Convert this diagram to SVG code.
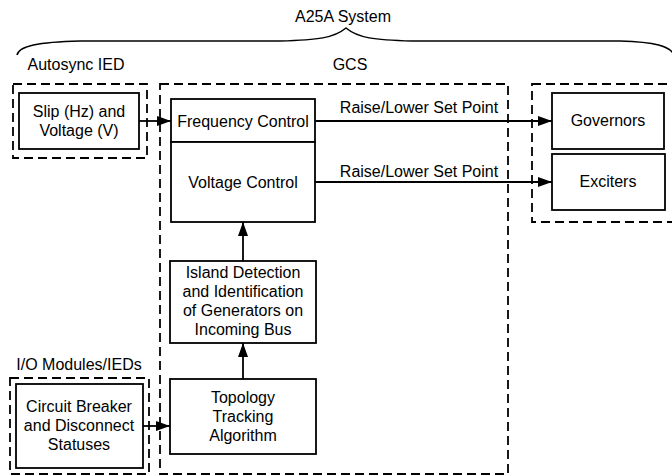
<svg xmlns="http://www.w3.org/2000/svg" width="672" height="476" viewBox="0 0 672 476">
<defs>
<style>
text{font-family:"Liberation Sans",Arial,sans-serif;font-size:16px;fill:#000;text-anchor:middle}
.box{fill:#fff;stroke:#000;stroke-width:1.8}
.dash{fill:none;stroke:#000;stroke-width:1.8;stroke-dasharray:9,5}
.conn{fill:none;stroke:#000;stroke-width:1.8}
.brace{fill:none;stroke:#000;stroke-width:1.5}
</style>
<marker id="ah" viewBox="0 0 14 10" refX="14" refY="5" markerWidth="14" markerHeight="10" markerUnits="userSpaceOnUse" orient="auto">
<path d="M0,0 L14,5 L0,10 z" fill="#000"/>
</marker>
</defs>
<rect width="672" height="476" fill="#fff"/>
<g id="system">
<path class="brace" d="M17,55 C19,46 38,42 80,41 L280,41 C318,40 334,38 346,28 C358,38 374,40 412,41 L620,41 C655,42 670,46 674,55"/>
<text x="343" y="22">A25A System</text>
</g>
<g id="autosync-ied">
<text x="76" y="70">Autosync IED</text>
<rect class="dash" x="13" y="84" width="134" height="74"/>
</g>
<g id="gcs">
<text x="350" y="70">GCS</text>
<rect class="dash" x="160" y="84" width="348" height="390"/>
</g>
<g id="gen-group">
<rect class="dash" x="532" y="84" width="150" height="138"/>
</g>
<g id="io-modules">
<text x="79" y="370">I/O Modules/IEDs</text>
<rect class="dash" x="10" y="378" width="139" height="96"/>
</g>
<g id="slip">
<rect class="box" x="19" y="93" width="120" height="56"/>
<text x="79" y="117">Slip (Hz) and</text>
<text x="79" y="136">Voltage (V)</text>
</g>
<g id="freq">
<rect class="box" x="171" y="99" width="144" height="43"/>
<text x="243" y="127">Frequency Control</text>
</g>
<g id="volt">
<rect class="box" x="171" y="142" width="144" height="80"/>
<text x="243" y="188">Voltage Control</text>
</g>
<g id="island">
<rect class="box" x="170" y="261" width="146" height="82"/>
<text x="243" y="278">Island Detection</text>
<text x="243" y="297">and Identification</text>
<text x="243" y="316">of Generators on</text>
<text x="243" y="335">Incoming Bus</text>
</g>
<g id="topology">
<rect class="box" x="170" y="379" width="146" height="75"/>
<text x="243" y="403">Topology</text>
<text x="243" y="422">Tracking</text>
<text x="243" y="441">Algorithm</text>
</g>
<g id="breaker">
<rect class="box" x="16" y="384" width="127" height="84"/>
<text x="79" y="412">Circuit Breaker</text>
<text x="79" y="431">and Disconnect</text>
<text x="79" y="450">Statuses</text>
</g>
<g id="governors">
<rect class="box" x="552" y="93" width="112" height="56"/>
<text x="608" y="126">Governors</text>
</g>
<g id="exciters">
<rect class="box" x="552" y="154" width="113" height="56"/>
<text x="608" y="187">Exciters</text>
</g>
<g id="connectors">
<path class="conn" d="M139,121 L171,121" marker-end="url(#ah)"/>
<path class="conn" d="M315,121 L552,121" marker-end="url(#ah)"/>
<path class="conn" d="M315,182 L552,182" marker-end="url(#ah)"/>
<path class="conn" d="M243,261 L243,222" marker-end="url(#ah)"/>
<path class="conn" d="M243,379 L243,343" marker-end="url(#ah)"/>
<path class="conn" d="M143,426 L170,426" marker-end="url(#ah)"/>
<text x="419" y="113">Raise/Lower Set Point</text>
<text x="419" y="177">Raise/Lower Set Point</text>
</g>
</svg>
